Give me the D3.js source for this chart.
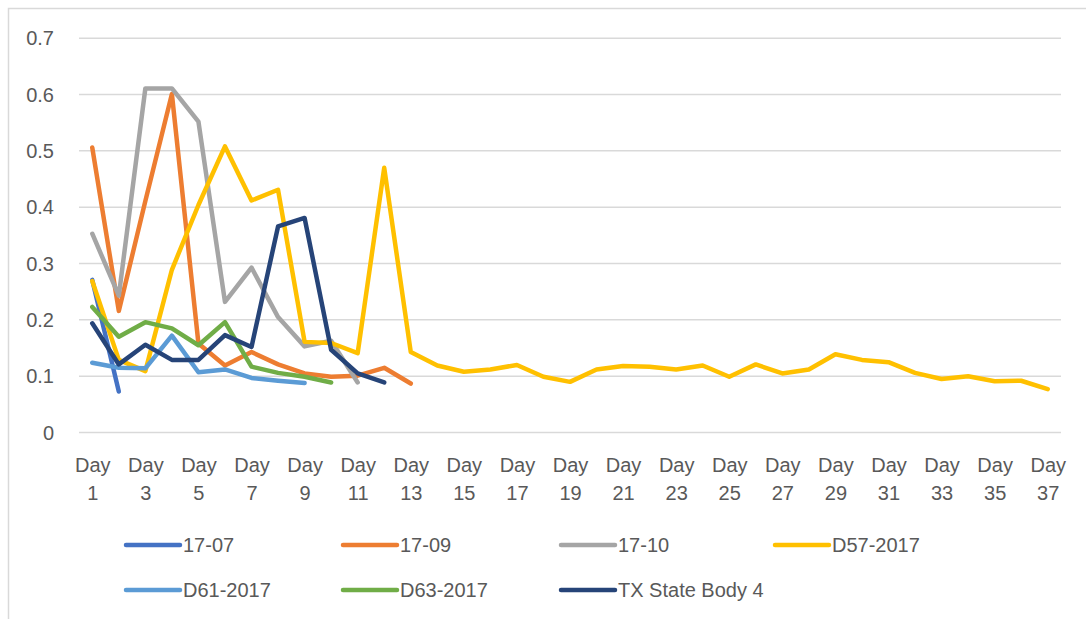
<!DOCTYPE html>
<html>
<head>
<meta charset="utf-8">
<script src="https://cdn.jsdelivr.net/npm/d3@7"></script>
<style>
  body { margin: 0; background: #fff; }
  svg { display: block; font-family: "Liberation Sans", Arial, sans-serif; }
</style>
</head>
<body>
<svg id="chart" width="1086" height="619"></svg>
<script>
// categories
const days = ["Day 1","Day 2","Day 3","Day 4","Day 5","Day 6","Day 7","Day 8","Day 9","Day 10",
  "Day 11","Day 12","Day 13","Day 14","Day 15","Day 16","Day 17","Day 18","Day 19","Day 20",
  "Day 21","Day 22","Day 23","Day 24","Day 25","Day 26","Day 27","Day 28","Day 29","Day 30",
  "Day 31","Day 32","Day 33","Day 34","Day 35","Day 36","Day 37"]

// series values
const s1707 = [0.27, 0.072]
const s1709 = [0.505, 0.215, 0.41, 0.60, 0.157, 0.118, 0.142, 0.12, 0.104, 0.098, 0.1, 0.114, 0.086]
const s1710 = [0.352, 0.242, 0.61, 0.61, 0.551, 0.231, 0.292, 0.204, 0.152, 0.162, 0.088]
const d57 = [0.268, 0.128, 0.108, 0.288, 0.403, 0.507, 0.411, 0.43, 0.16, 0.158, 0.14, 0.469, 0.142,
  0.118, 0.107, 0.111, 0.119, 0.098, 0.089, 0.111, 0.117, 0.116, 0.111, 0.118, 0.098, 0.12, 0.104,
  0.111, 0.138, 0.128, 0.124, 0.105, 0.094, 0.099, 0.09, 0.091, 0.076]
const d61 = [0.123, 0.114, 0.113, 0.171, 0.106, 0.111, 0.096, 0.091, 0.087]
const d63 = [0.222, 0.169, 0.195, 0.184, 0.154, 0.195, 0.116, 0.105, 0.098, 0.088]
const tx4 = [0.193, 0.12, 0.155, 0.128, 0.128, 0.172, 0.151, 0.365, 0.38, 0.146, 0.104, 0.088]

const yTicks = [0, 0.1, 0.2, 0.3, 0.4, 0.5, 0.6, 0.7]

const seriesNames = ["17-07", "17-09", "17-10", "D57-2017", "D61-2017", "D63-2017", "TX State Body 4"]
const seriesValues = [s1707, s1709, s1710, d57, d61, d63, tx4]
const colors = ["#4472C4", "#ED7D31", "#A5A5A5", "#FFC000", "#5B9BD5", "#70AD47", "#264478"]

const svg = d3.select("#chart")

// chart border (only top/left visible in the crop)
svg.append("rect")
  .attr("x", 8.5).attr("y", 8.5)
  .attr("width", 1200).attr("height", 700)
  .attr("fill", "none")
  .attr("stroke", "#d9d9d9")
  .attr("stroke-width", 1.5)

const plotLeft = 79, plotRight = 1061, plotTop = 37.7, plotBottom = 432

const x = d3.scalePoint().domain(days).range([plotLeft, plotRight]).padding(0.5)
const y = d3.scaleLinear().domain([0, 0.7]).range([plotBottom, plotTop])

// y axis + gridlines
const yAxis = svg.append("g")
  .attr("transform", `translate(${plotLeft},0)`)
  .call(d3.axisLeft(y).tickValues(yTicks).tickSize(-(plotRight - plotLeft)).tickPadding(25)
    .tickFormat(d => d === 0 ? "0" : d.toFixed(1)))
yAxis.select(".domain").remove()
yAxis.selectAll(".tick line").attr("stroke", "#d9d9d9").attr("stroke-width", 1.5)
yAxis.selectAll(".tick text")
  .attr("fill", "#595959")
  .style("font-size", "20px")
  .attr("dy", "0.35em")

// x axis, every other day, two line labels
const xAxis = svg.append("g")
  .attr("transform", `translate(0,${plotBottom})`)
  .call(d3.axisBottom(x).tickValues(days.filter((d, i) => i % 2 === 0)).tickSize(0))
xAxis.select(".domain").remove()
xAxis.selectAll(".tick text").each(function (d) {
  const t = d3.select(this)
  t.text(null).attr("y", 0).attr("dy", null)
    .attr("fill", "#595959").style("font-size", "20px")
  const parts = d.split(" ")
  t.append("tspan").attr("x", 0).attr("y", 40).text(parts[0])
  t.append("tspan").attr("x", 0).attr("y", 68).text(parts[1])
})

// lines
const line = d3.line()
  .x((d, i) => x(days[i]))
  .y(d => y(d))

svg.append("g").selectAll("path")
  .data(seriesValues)
  .join("path")
  .attr("d", d => line(d))
  .attr("fill", "none")
  .attr("stroke", (d, i) => colors[i])
  .attr("stroke-width", 4.5)
  .attr("stroke-linejoin", "round")
  .attr("stroke-linecap", "round")

// legend
const legendX = [126, 343, 561, 775]
const legendY = [545, 590]
const legend = svg.append("g").selectAll("g")
  .data(seriesNames)
  .join("g")
  .attr("transform", (d, i) => `translate(${legendX[i < 4 ? i : i - 4]},${legendY[i < 4 ? 0 : 1]})`)

legend.append("line")
  .attr("x1", 0).attr("x2", 54)
  .attr("stroke", (d, i) => colors[i])
  .attr("stroke-width", 4.5)
  .attr("stroke-linecap", "round")

legend.append("text")
  .attr("x", 57)
  .attr("dy", "0.35em")
  .attr("fill", "#595959")
  .style("font-size", "20px")
  .text(d => d)
</script>
</body>
</html>
